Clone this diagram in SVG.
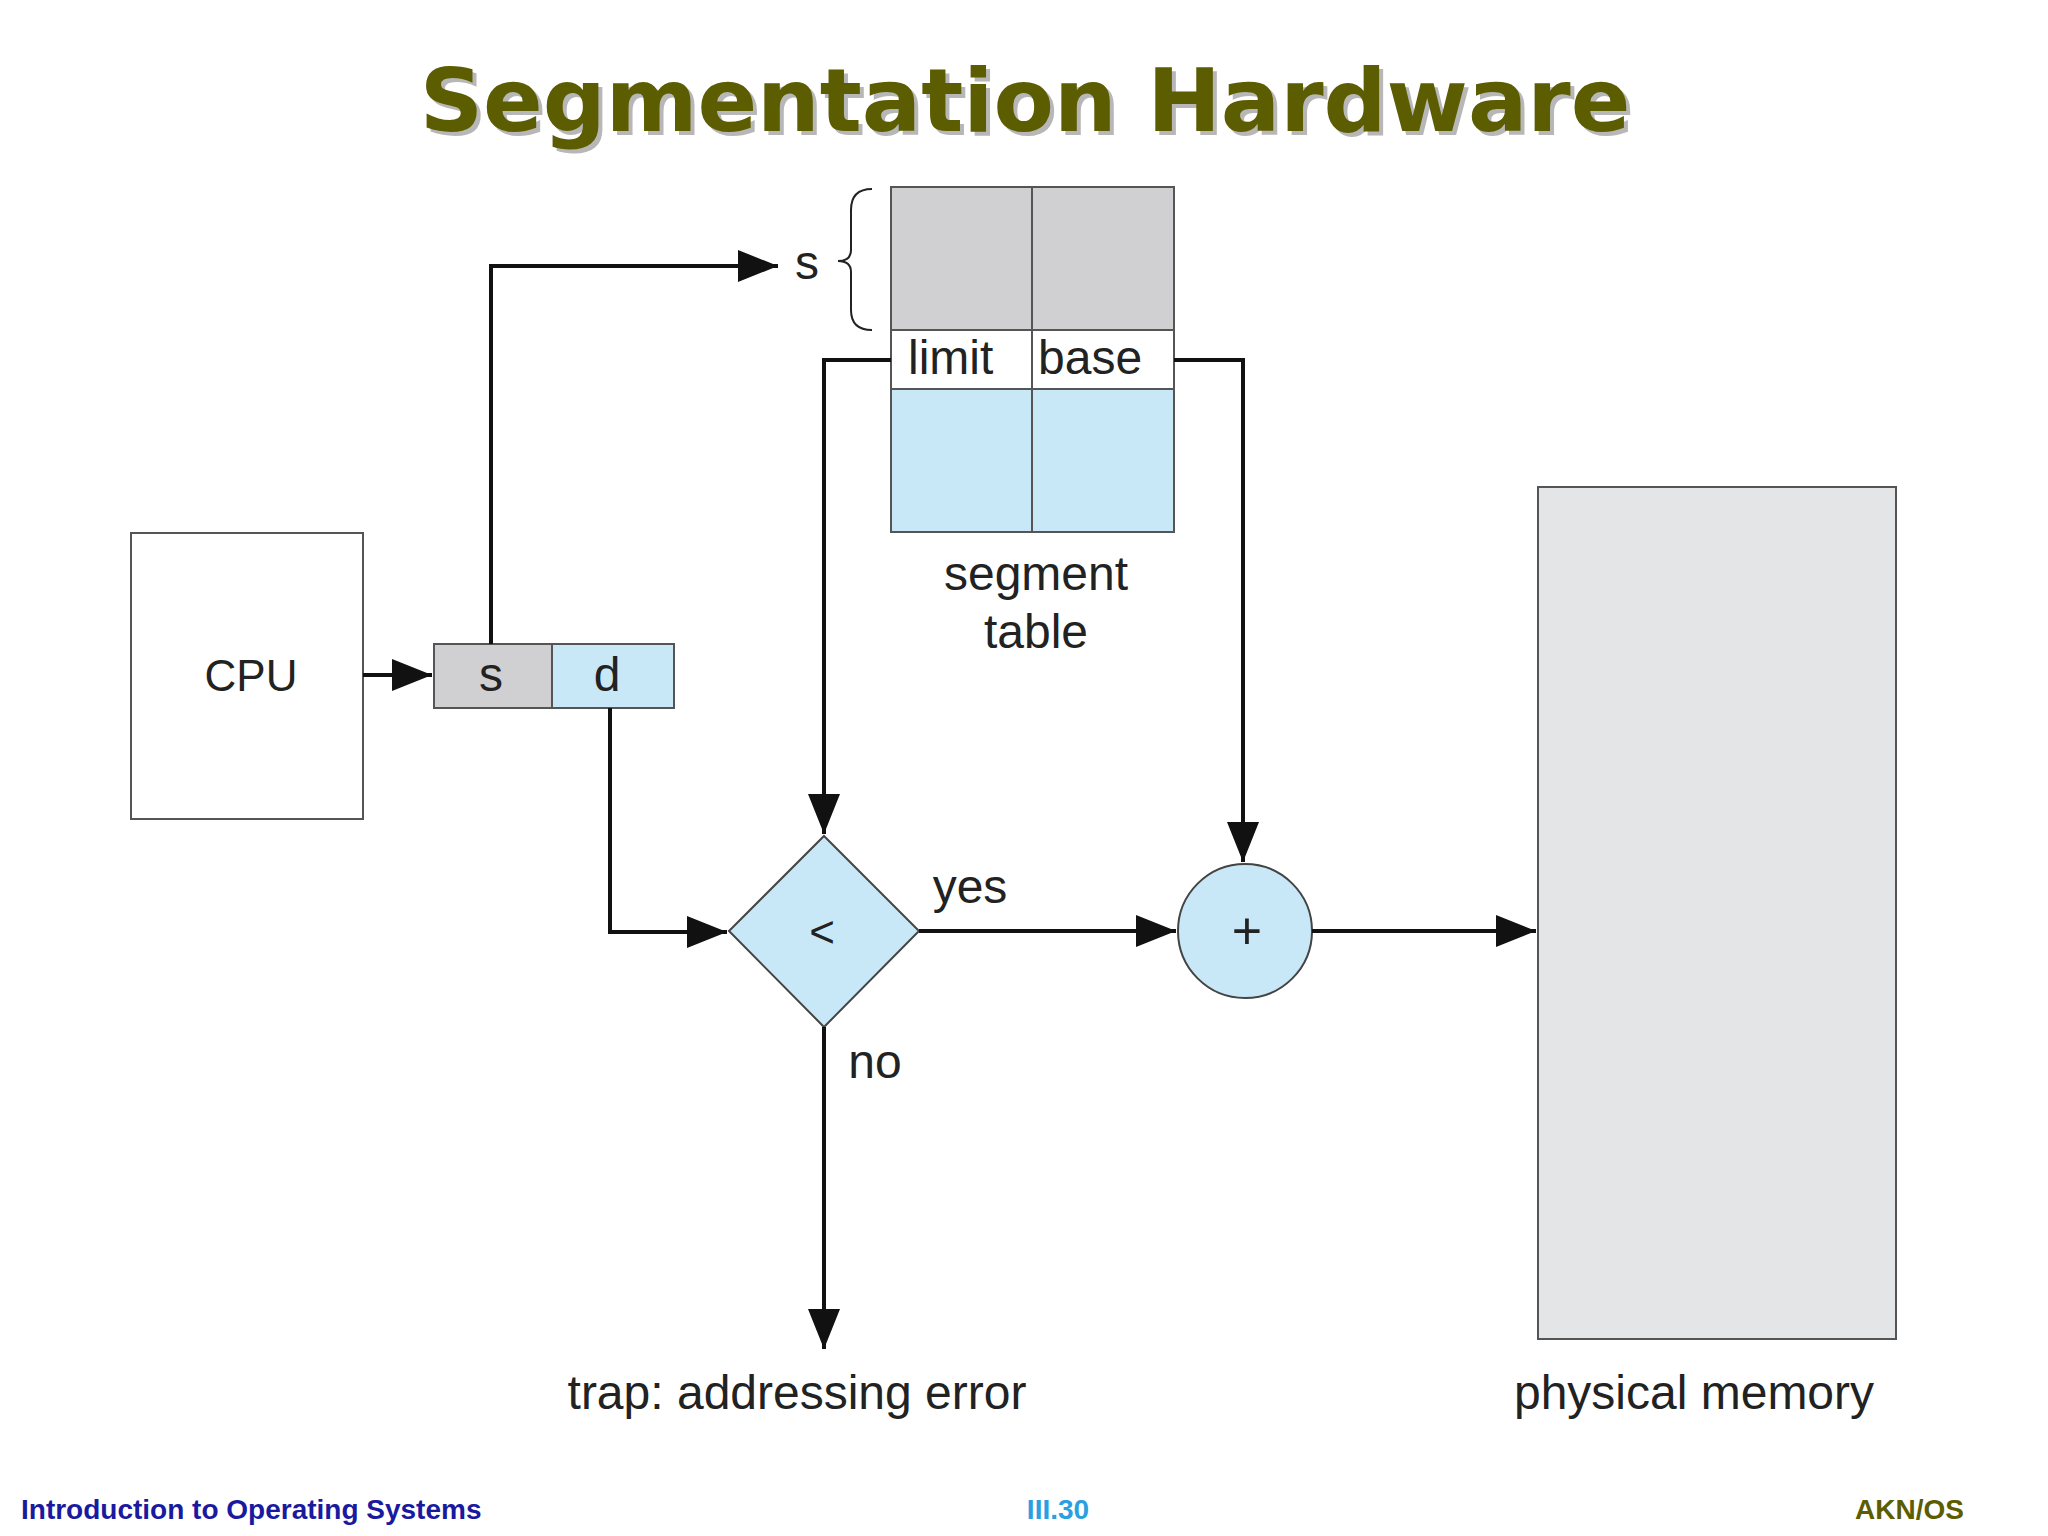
<svg xmlns="http://www.w3.org/2000/svg" width="2048" height="1536" viewBox="0 0 2048 1536">
<defs>
<marker id="a" viewBox="0 0 10 10" refX="10" refY="5" markerWidth="10" markerHeight="10" orient="auto"><path d="M0,1 L10,5 L0,9 z" fill="#111"/></marker>
</defs>
<style>
.l{font-family:"Liberation Sans",Arial,sans-serif;font-size:48px;fill:#222;text-anchor:middle}
.c{fill:none;stroke:#111;stroke-width:4;marker-end:url(#a)}
.b{stroke:#555;stroke-width:2}
.t{font-family:"DejaVu Sans",sans-serif;font-weight:bold;font-size:88px;text-anchor:middle}
</style>
<rect width="2048" height="1536" fill="#fff"/>
<text x="1029" y="135" class="t" fill="#333" opacity="0.35">Segmentation Hardware</text>
<text x="1025" y="131" class="t" fill="#5c5c00">Segmentation Hardware</text>
<g id="segtable">
<rect x="891" y="187" width="283" height="143" fill="#d0d0d2" class="b"/>
<rect x="891" y="330" width="283" height="59" fill="#fff" class="b"/>
<rect x="891" y="389" width="283" height="143" fill="#c8e8f8" class="b"/>
<line x1="1032" y1="187" x2="1032" y2="532" class="b"/>
<text x="908" y="374" class="l" style="text-anchor:start">limit</text>
<text x="1038" y="374" class="l" style="text-anchor:start">base</text>
<path d="M872,189 Q851,189 851,210 L851,250 Q851,261 838,261 Q851,261 851,272 L851,310 Q851,330 872,330" fill="none" stroke="#222" stroke-width="2"/>
<text x="807" y="279" class="l">s</text>
<text x="1036" y="590" class="l">segment</text>
<text x="1036" y="648" class="l">table</text>
</g>
<g id="cpu"><rect x="131" y="533" width="232" height="286" fill="#fff" class="b"/><text x="251" y="691" class="l" style="font-size:44px">CPU</text></g>
<g id="addr">
<rect x="434" y="644" width="118" height="64" fill="#d0d0d2" class="b"/>
<rect x="552" y="644" width="122" height="64" fill="#c8e8f8" class="b"/>
<text x="491" y="691" class="l">s</text><text x="607" y="691" class="l">d</text>
</g>
<g id="cmp"><path d="M824,836 L919,931 L824,1027 L729,931 z" fill="#c8e8f8" stroke="#444" stroke-width="2"/><text x="822" y="947" class="l" style="font-size:44px">&lt;</text></g>
<g id="add"><circle cx="1245" cy="931" r="67" fill="#c8e8f8" stroke="#444" stroke-width="2"/><text x="1247" y="949" class="l" style="font-size:52px">+</text></g>
<g id="mem"><rect x="1538" y="487" width="358" height="852" fill="#e4e5e7" class="b"/></g>
<g id="connectors">
<line x1="363" y1="675" x2="432" y2="675" class="c"/>
<polyline points="491,644 491,266 778,266" class="c"/>
<polyline points="891,360 824,360 824,834" class="c"/>
<polyline points="1174,360 1243,360 1243,862" class="c"/>
<polyline points="610,708 610,932 727,932" class="c"/>
<line x1="919" y1="931" x2="1176" y2="931" class="c"/>
<line x1="1312" y1="931" x2="1536" y2="931" class="c"/>
<line x1="824" y1="1027" x2="824" y2="1349" class="c"/>
</g>
<text x="970" y="903" class="l">yes</text>
<text x="875" y="1078" class="l">no</text>
<text x="797" y="1409" class="l">trap: addressing error</text>
<text x="1694" y="1409" class="l">physical memory</text>
<text x="21" y="1519" font-family="Liberation Sans,Arial,sans-serif" font-weight="bold" font-size="28" fill="#1a1aa0">Introduction to Operating Systems</text>
<text x="1058" y="1519" font-family="Liberation Sans,Arial,sans-serif" font-weight="bold" font-size="28" fill="#2aa0e0" text-anchor="middle">III.30</text>
<text x="1964" y="1519" font-family="Liberation Sans,Arial,sans-serif" font-weight="bold" font-size="28" fill="#5c5c00" text-anchor="end">AKN/OS</text>
</svg>
